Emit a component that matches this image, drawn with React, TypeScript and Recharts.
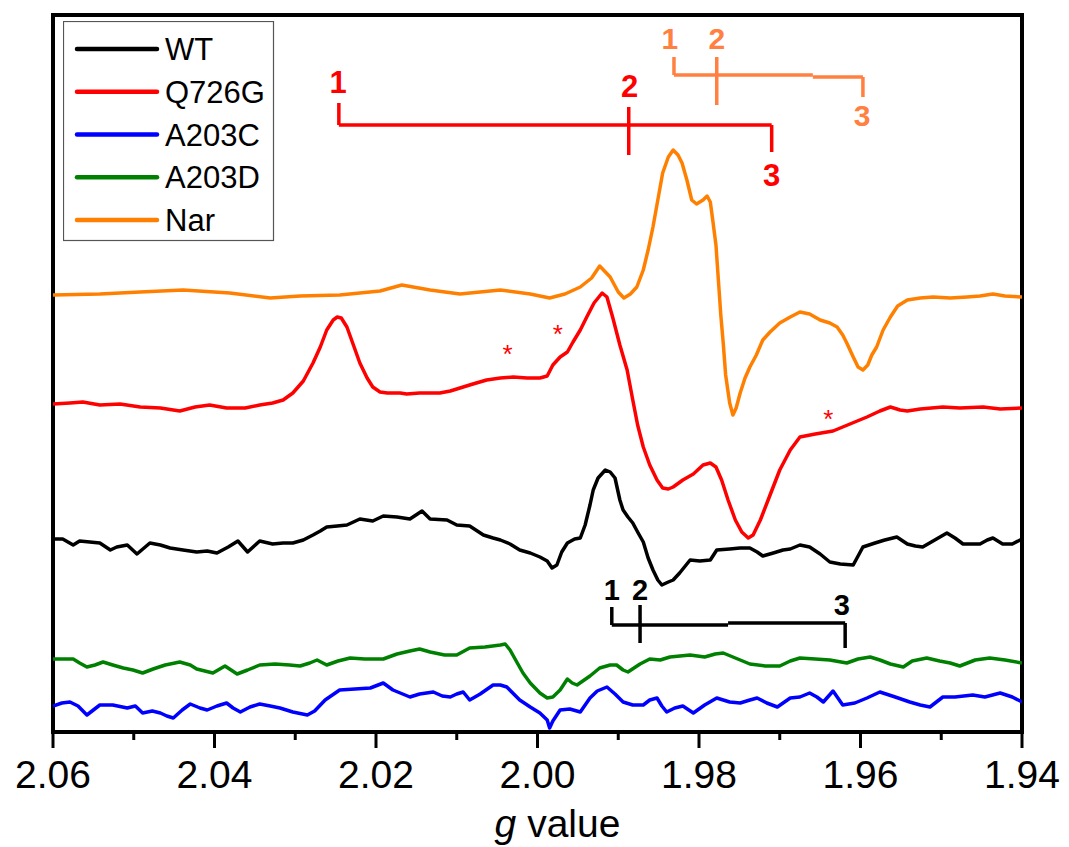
import React from 'react';
import {
  LineChart,
  Line,
  XAxis,
  YAxis,
  Legend,
  ReferenceArea,
  ReferenceLine,
  ReferenceDot,
} from 'recharts';

const FONT = '"Liberation Sans", Arial, sans-serif';

// --- spectra (g value, intensity in arbitrary units, traces already offset) ---
const gNar = [2.0600, 2.0542, 2.0492, 2.0439, 2.0381, 2.0331, 2.0294, 2.0245, 2.0195, 2.0168, 2.0133, 2.0096, 2.0046, 2.0009, 1.9985, 1.9966, 1.9947, 1.9933, 1.9923, 1.9910, 1.9900, 1.9893, 1.9885, 1.9877, 1.9869, 1.9863, 1.9857, 1.9851, 1.9845, 1.9838, 1.9832, 1.9826, 1.9821, 1.9815, 1.9809, 1.9803, 1.9795, 1.9790, 1.9786, 1.9783, 1.9779, 1.9776, 1.9773, 1.9770, 1.9767, 1.9762, 1.9758, 1.9754, 1.9749, 1.9743, 1.9737, 1.9729, 1.9721, 1.9712, 1.9700, 1.9687, 1.9675, 1.9663, 1.9650, 1.9638, 1.9629, 1.9622, 1.9617, 1.9609, 1.9603, 1.9597, 1.9591, 1.9586, 1.9580, 1.9572, 1.9563, 1.9554, 1.9542, 1.9526, 1.9510, 1.9489, 1.9468, 1.9452, 1.9436, 1.9421, 1.9400];
const narValues = [437, 438, 440, 442, 439, 434, 436, 437, 441, 447, 442, 438, 442, 438, 434, 438, 445, 454, 466, 455, 440, 434, 438, 445, 462, 482, 505, 532, 559, 575, 582, 577, 569, 552, 532, 528, 532, 536, 530, 512, 487, 452, 417, 389, 357, 329, 317, 324, 339, 354, 365, 377, 392, 400, 409, 415, 420, 418, 412, 409, 405, 397, 389, 375, 365, 362, 367, 377, 385, 402, 415, 426, 432, 434, 435, 434, 435, 436, 438, 436, 435];

const gQ726G = [2.0600, 2.0579, 2.0563, 2.0542, 2.0517, 2.0492, 2.0467, 2.0443, 2.0424, 2.0406, 2.0385, 2.0362, 2.0344, 2.0328, 2.0315, 2.0303, 2.0290, 2.0278, 2.0269, 2.0261, 2.0253, 2.0248, 2.0243, 2.0236, 2.0228, 2.0220, 2.0211, 2.0204, 2.0195, 2.0186, 2.0170, 2.0162, 2.0146, 2.0121, 2.0108, 2.0096, 2.0080, 2.0063, 2.0046, 2.0030, 2.0013, 1.9997, 1.9988, 1.9981, 1.9972, 1.9963, 1.9956, 1.9947, 1.9939, 1.9930, 1.9920, 1.9914, 1.9907, 1.9898, 1.9889, 1.9882, 1.9876, 1.9869, 1.9861, 1.9852, 1.9845, 1.9838, 1.9832, 1.9820, 1.9807, 1.9795, 1.9786, 1.9779, 1.9772, 1.9764, 1.9755, 1.9747, 1.9739, 1.9733, 1.9724, 1.9712, 1.9700, 1.9687, 1.9675, 1.9656, 1.9634, 1.9613, 1.9592, 1.9576, 1.9563, 1.9551, 1.9542, 1.9526, 1.9498, 1.9477, 1.9448, 1.9427, 1.9400];
const q726gValues = [328, 329, 330, 327, 328, 325, 324, 321, 325, 327, 324, 324, 327, 329, 332, 339, 351, 369, 385, 402, 412, 415, 414, 405, 387, 369, 354, 345, 340, 339, 339, 338, 339, 339, 341, 344, 348, 352, 354, 355, 354, 354, 356, 367, 375, 380, 390, 402, 415, 429, 439, 435, 415, 387, 362, 332, 307, 285, 267, 252, 244, 243, 245, 252, 258, 267, 269, 265, 252, 232, 212, 200, 194, 197, 212, 237, 262, 282, 295, 298, 301, 308, 315, 321, 325, 322, 321, 323, 325, 324, 325, 323, 324];

const gWT = [2.0600, 2.0588, 2.0575, 2.0567, 2.0542, 2.0529, 2.0521, 2.0508, 2.0496, 2.0480, 2.0467, 2.0455, 2.0439, 2.0422, 2.0409, 2.0397, 2.0383, 2.0371, 2.0359, 2.0344, 2.0328, 2.0315, 2.0303, 2.0290, 2.0278, 2.0269, 2.0261, 2.0248, 2.0236, 2.0220, 2.0204, 2.0191, 2.0174, 2.0158, 2.0143, 2.0133, 2.0112, 2.0100, 2.0084, 2.0067, 2.0055, 2.0046, 2.0034, 2.0022, 2.0009, 1.9997, 1.9988, 1.9982, 1.9976, 1.9970, 1.9963, 1.9954, 1.9947, 1.9941, 1.9935, 1.9931, 1.9925, 1.9916, 1.9910, 1.9904, 1.9898, 1.9894, 1.9888, 1.9882, 1.9876, 1.9869, 1.9863, 1.9857, 1.9851, 1.9846, 1.9838, 1.9832, 1.9824, 1.9811, 1.9799, 1.9786, 1.9778, 1.9762, 1.9749, 1.9737, 1.9728, 1.9721, 1.9708, 1.9696, 1.9687, 1.9675, 1.9663, 1.9650, 1.9638, 1.9625, 1.9609, 1.9603, 1.9597, 1.9582, 1.9570, 1.9555, 1.9542, 1.9532, 1.9523, 1.9508, 1.9493, 1.9483, 1.9473, 1.9452, 1.9443, 1.9436, 1.9424, 1.9412, 1.9400];
const wtValues = [193, 193, 187, 191, 189, 182, 185, 187, 178, 189, 187, 184, 182, 180, 181, 179, 185, 191, 180, 191, 188, 189, 189, 192, 197, 201, 205, 206, 207, 213, 211, 216, 215, 213, 221, 213, 212, 207, 206, 197, 194, 192, 188, 182, 179, 175, 171, 164, 167, 180, 189, 193, 194, 207, 227, 242, 254, 262, 260, 254, 232, 222, 215, 209, 200, 190, 174, 162, 152, 147, 150, 152, 159, 172, 171, 172, 182, 183, 184, 184, 180, 176, 179, 182, 183, 187, 185, 178, 170, 168, 167, 176, 185, 189, 192, 195, 188, 186, 185, 192, 199, 194, 188, 188, 192, 194, 188, 188, 193];

const gA203D = [2.0600, 2.0588, 2.0575, 2.0567, 2.0558, 2.0548, 2.0538, 2.0526, 2.0513, 2.0501, 2.0489, 2.0476, 2.0461, 2.0443, 2.0430, 2.0422, 2.0412, 2.0402, 2.0387, 2.0372, 2.0359, 2.0344, 2.0325, 2.0307, 2.0294, 2.0282, 2.0273, 2.0261, 2.0247, 2.0232, 2.0214, 2.0191, 2.0174, 2.0158, 2.0146, 2.0133, 2.0115, 2.0100, 2.0084, 2.0065, 2.0046, 2.0040, 2.0034, 2.0025, 2.0018, 2.0009, 1.9997, 1.9988, 1.9981, 1.9972, 1.9963, 1.9957, 1.9951, 1.9935, 1.9923, 1.9910, 1.9902, 1.9894, 1.9888, 1.9873, 1.9861, 1.9848, 1.9836, 1.9811, 1.9793, 1.9780, 1.9770, 1.9755, 1.9737, 1.9718, 1.9700, 1.9687, 1.9675, 1.9656, 1.9638, 1.9617, 1.9603, 1.9588, 1.9576, 1.9563, 1.9547, 1.9536, 1.9518, 1.9502, 1.9489, 1.9477, 1.9458, 1.9440, 1.9421, 1.9400];
const a203dValues = [73, 73, 73, 69, 65, 67, 70, 67, 64, 62, 59, 63, 67, 70, 67, 63, 61, 59, 66, 58, 62, 67, 68, 67, 66, 69, 72, 67, 71, 74, 73, 73, 78, 81, 83, 80, 77, 77, 84, 85, 87, 88, 82, 69, 59, 49, 39, 34, 35, 42, 53, 49, 47, 56, 64, 67, 67, 62, 60, 68, 73, 72, 75, 77, 75, 78, 79, 74, 68, 66, 66, 71, 74, 73, 72, 69, 73, 75, 72, 68, 65, 71, 74, 71, 69, 66, 72, 74, 72, 69];

const gA203C = [2.0600, 2.0589, 2.0579, 2.0569, 2.0558, 2.0550, 2.0542, 2.0526, 2.0508, 2.0498, 2.0489, 2.0477, 2.0467, 2.0459, 2.0451, 2.0440, 2.0430, 2.0418, 2.0409, 2.0397, 2.0385, 2.0377, 2.0368, 2.0356, 2.0344, 2.0331, 2.0319, 2.0303, 2.0285, 2.0276, 2.0263, 2.0245, 2.0226, 2.0207, 2.0191, 2.0179, 2.0170, 2.0158, 2.0146, 2.0129, 2.0118, 2.0108, 2.0100, 2.0092, 2.0084, 2.0071, 2.0055, 2.0046, 2.0038, 2.0022, 2.0009, 1.9997, 1.9988, 1.9985, 1.9981, 1.9972, 1.9960, 1.9947, 1.9935, 1.9926, 1.9914, 1.9904, 1.9894, 1.9882, 1.9869, 1.9861, 1.9852, 1.9846, 1.9840, 1.9830, 1.9820, 1.9807, 1.9793, 1.9778, 1.9762, 1.9749, 1.9737, 1.9728, 1.9716, 1.9703, 1.9687, 1.9675, 1.9663, 1.9654, 1.9646, 1.9634, 1.9622, 1.9607, 1.9592, 1.9576, 1.9557, 1.9539, 1.9526, 1.9514, 1.9498, 1.9483, 1.9461, 1.9446, 1.9427, 1.9412, 1.9400];
const a203cValues = [26, 29, 30, 26, 17, 22, 27, 27, 24, 26, 19, 21, 19, 16, 14, 22, 28, 24, 22, 26, 29, 24, 20, 25, 28, 26, 24, 20, 17, 21, 32, 42, 43, 44, 49, 42, 39, 35, 38, 40, 36, 35, 38, 40, 32, 38, 47, 47, 45, 32, 25, 19, 12, 4, 11, 22, 23, 20, 34, 41, 45, 38, 30, 27, 27, 32, 34, 26, 20, 24, 26, 19, 27, 34, 30, 29, 32, 34, 29, 25, 34, 35, 39, 35, 30, 41, 27, 29, 34, 40, 35, 30, 27, 25, 35, 35, 37, 35, 39, 35, 30];

// --- legend ---
const legendNames = ['WT', 'Q726G', 'A203C', 'A203D', 'Nar'];
const legendColors = ['#000000', '#ff0000', '#0000ff', '#008000', '#ff8000'];

// --- axis ---
const gTicks = [2.06, 2.05, 2.04, 2.03, 2.02, 2.01, 2.0, 1.99, 1.98, 1.97, 1.96, 1.95, 1.94];

// --- hyperfine stick diagrams: line positions, tick extents, bar heights, label spots ---
const redG = [2.0246, 1.9887, 1.971];
const redTop = [629, 625, 607];
const redBottom = [607, 577, 580];
const redBars = [[2.0246, 1.971, 607]];
const redLabelG = [2.0247, 1.9886, 1.971];
const redLabelV = [650, 646, 557];

const orangeG = [1.9831, 1.9778, 1.9597];
const orangeTop = [675, 675, 655];
const orangeBottom = [657, 627, 635];
const orangeBars = [[1.9831, 1.9659, 657], [1.9659, 1.9597, 655]];
const orangeLabelG = [1.9836, 1.9778, 1.9598];
const orangeLabelV = [694, 694, 617];

const blackG = [1.9908, 1.9873, 1.9619];
const blackTop = [125, 127, 109];
const blackBottom = [107, 89, 84];
const blackBars = [[1.9908, 1.9764, 107], [1.9764, 1.9619, 109]];
const blackLabelG = [1.9908, 1.9873, 1.9623];
const blackLabelV = [142, 142, 127];

const starG = [2.0037, 1.9975, 1.964];
const starV = [384, 404, 319];

const toPoints = (g: number[], v: number[]) => g.map((x, i) => ({ g: x, v: v[i] }));

const series = [
  { name: 'Nar', color: '#ff8000', data: toPoints(gNar, narValues) },
  { name: 'WT', color: '#000000', data: toPoints(gWT, wtValues) },
  { name: 'A203D', color: '#008000', data: toPoints(gA203D, a203dValues) },
  { name: 'A203C', color: '#0000ff', data: toPoints(gA203C, a203cValues) },
  { name: 'Q726G', color: '#ff0000', data: toPoints(gQ726G, q726gValues) },
];

const GTick = (props: any) => {
  const { x, y, payload } = props;
  const v = payload.value;
  const major = Math.round(v * 100) % 2 === 0;
  return (
    <g>
      <line x1={x} y1={y} x2={x} y2={y + (major ? 16 : 8)} stroke="#000" strokeWidth={3} />
      {major && (
        <text x={x} y={y + 56} textAnchor="middle" fontSize={39} fontFamily={FONT} fill="#000">
          {v.toFixed(2)}
        </text>
      )}
    </g>
  );
};

const AxisTitle = (props: any) => {
  const { viewBox } = props;
  return (
    <text
      x={viewBox.x + viewBox.width / 2 + 20}
      y={viewBox.y + 105}
      textAnchor="middle"
      fontSize={39}
      fontFamily={FONT}
      fill="#000"
    >
      <tspan fontStyle="italic">g</tspan> value
    </text>
  );
};

const LegendBox = () => (
  <svg width={212} height={221} style={{ display: 'block' }}>
    <rect x={0.5} y={0.5} width={210} height={219} fill="#fff" stroke="#555" strokeWidth={1.2} />
    {legendNames.map((n, i) => {
      const cy = 28 + i * 42.75;
      return (
        <g key={n}>
          <line x1={14} x2={94} y1={cy} y2={cy} stroke={legendColors[i]} strokeWidth={4.5} strokeLinecap="round" />
          <text x={102} y={cy + 11} fontSize={31} fontFamily={FONT} fill="#000">
            {n}
          </text>
        </g>
      );
    })}
  </svg>
);

const numberLabel = (text: string, color: string, size: number, shift: number) => (p: any) => (
  <text
    x={p.cx}
    y={p.cy + size * shift}
    textAnchor="middle"
    fontSize={size}
    fontWeight="bold"
    fontFamily={FONT}
    fill={color}
  >
    {text}
  </text>
);

const stickDiagram = (
  key: string,
  color: string,
  g: number[],
  top: number[],
  bottom: number[],
  bars: number[][],
  labelG: number[],
  labelV: number[],
  size: number,
) => [
  ...g.map((gx, i) => (
    <ReferenceLine
      key={`${key}-t${i}`}
      segment={[{ x: gx, y: top[i] }, { x: gx, y: bottom[i] }]}
      stroke={color}
      strokeWidth={3.5}
    />
  )),
  ...bars.map((b, i) => (
    <ReferenceLine
      key={`${key}-b${i}`}
      segment={[{ x: b[0], y: b[2] }, { x: b[1], y: b[2] }]}
      stroke={color}
      strokeWidth={3.5}
    />
  )),
  ...labelG.map((gx, i) => (
    <ReferenceDot
      key={`${key}-l${i}`}
      x={gx}
      y={labelV[i]}
      r={0}
      shape={numberLabel(String(i + 1), color, size, 0.36)}
    />
  )),
];

export default function App() {
  return (
    <div style={{ position: 'absolute', left: 0, top: 0, width: 1069, height: 847, background: '#fff' }}>
      <LineChart width={1069} height={847} margin={{ top: 15, right: 47, left: 53, bottom: 15 }}>
        <XAxis
          type="number"
          dataKey="g"
          domain={[1.94, 2.06]}
          reversed
          ticks={gTicks}
          interval={0}
          tick={<GTick />}
          tickLine={false}
          tickSize={0}
          tickMargin={0}
          axisLine={false}
          height={100}
          allowDataOverflow
          label={<AxisTitle />}
        />
        <YAxis type="number" domain={[0, 717]} hide allowDataOverflow />
        <Legend
          layout="vertical"
          align="center"
          verticalAlign="middle"
          content={<LegendBox />}
          wrapperStyle={{ left: 63, top: 21, width: 212, height: 221 }}
        />
        {series.map((s) => (
          <Line
            key={s.name}
            data={s.data}
            dataKey="v"
            name={s.name}
            type="linear"
            stroke={s.color}
            strokeWidth={3.5}
            strokeLinejoin="round"
            dot={false}
            activeDot={false}
            isAnimationActive={false}
          />
        ))}
        {stickDiagram('red', '#ff0000', redG, redTop, redBottom, redBars, redLabelG, redLabelV, 31)}
        {stickDiagram('orange', '#ff8040', orangeG, orangeTop, orangeBottom, orangeBars, orangeLabelG, orangeLabelV, 30)}
        {stickDiagram('black', '#000000', blackG, blackTop, blackBottom, blackBars, blackLabelG, blackLabelV, 29)}
        {starG.map((gx, i) => (
          <ReferenceDot
            key={`star${i}`}
            x={gx}
            y={starV[i]}
            r={0}
            shape={(p: any) => (
              <text x={p.cx} y={p.cy + 15} textAnchor="middle" fontSize={26} fontFamily={FONT} fill="#ff0000">
                *
              </text>
            )}
          />
        ))}
        <ReferenceArea x1={2.06} x2={1.94} y1={0} y2={717} fill="none" stroke="#000" strokeWidth={4} />
      </LineChart>
    </div>
  );
}
